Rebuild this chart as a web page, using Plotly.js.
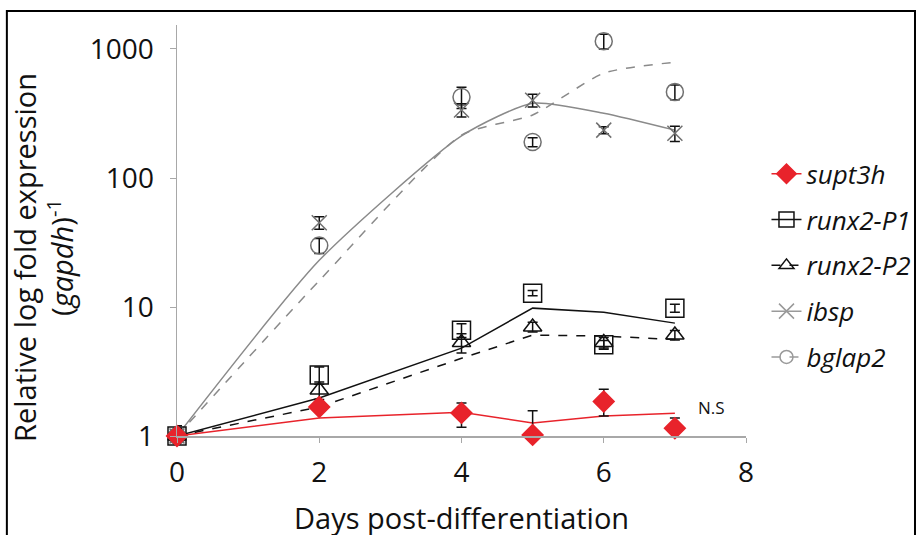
<!DOCTYPE html>
<html>
<head>
<meta charset="utf-8">
<script src="https://cdn.plot.ly/plotly-3.0.1.min.js"></script>
<style>html,body{margin:0;padding:0;background:#fff;overflow:hidden;width:917px;height:535px;} #chart{width:917px;height:535px;overflow:hidden;}</style>
</head>
<body>
<div id="chart"></div>
<script>
// ---- data ----
var days = [0, 2, 4, 5, 6, 7];
var seriesNames = ["supt3h", "runx2-P1", "runx2-P2", "ibsp", "bglap2"];

var supt3h      = [1, 1.68, 1.51, 1.02, 1.85, 1.15];
var supt3hUp    = [0, 0.05, 0.29, 0.55, 0.45, 0.23];
var supt3hDown  = [0, 0.05, 0.34, 0, 0.42, 0];
var supt3hLine  = [1, 1.38, 1.53, 1.26, 1.43, 1.5];

var runx2P1     = [1, 2.97, 6.6, 12.8, 5.1, 9.8];
var runx2P1Err  = [0.15, 0.45, 0.8, 0.6, 0.4, 0.7];
var runx2P1Line = [1, 1.97, 4.8, 9.8, 9.1, 7.5];

var runx2P2     = [1, 2.27, 5.3, 7.0, 5.3, 6.06];
var runx2P2Err  = [0, 0.35, 0.9, 0.6, 0.5, 0.5];
var runx2P2Line = [1, 1.68, 4.0, 6.06, 5.95, 5.6];

var ibsp        = [1, 45, 337, 400, 235, 222];
var ibspErr     = [0.2, 5, 40, 45, 15, 30];
var ibspLine    = [1, 23, 212, 380, 318, 235];

var bglap2      = [1, 30, 425, 190, 1150, 465];
var bglap2Err   = [0, 4, 80, 15, 150, 60];
var bglap2Line  = [1, 16, 215, 308, 650, 790];

var yTicks = [1, 10, 100, 1000];
var xTicks = [0, 2, 4, 6, 8];

// ---- styles ----
var RED = "#e8232b", BLACK = "#111111", GREY = "#8a8a8a", GREYM = "#707070";

function lineTrace(y, color, dash, shape) {
  return {x: days, y: y, mode: "lines", type: "scatter", showlegend: false, hoverinfo: "skip",
          line: {color: color, width: 1.5, dash: dash, shape: shape || "linear", smoothing: 0.6},
          cliponaxis: false};
}
function markTrace(y, up, down, symbol, color, size, ecolor) {
  return {x: days, y: y, mode: "markers", type: "scatter", showlegend: false, cliponaxis: false,
          marker: {symbol: symbol, size: size, color: color, line: {color: color, width: 1.5}},
          error_y: {type: "data", array: up, arrayminus: down, symmetric: false,
                    color: ecolor, thickness: 1.5, width: 5}};
}
function legendTrace(name, symbol, color, dash, size) {
  return {x: [null], y: [null], mode: "lines+markers", type: "scatter", name: name,
          legendgroup: name,
          line: {color: color, width: 1.5, dash: dash},
          marker: {symbol: symbol, size: size, color: color, line: {color: color, width: 1.5}}};
}

var data = [
  lineTrace(bglap2Line, GREY, "dash", "spline"),
  lineTrace(ibspLine, GREY, "solid", "spline"),
  lineTrace(runx2P2Line, BLACK, "dash"),
  lineTrace(runx2P1Line, BLACK, "solid"),
  lineTrace(supt3hLine, RED, "solid"),
  markTrace(bglap2, bglap2Err, bglap2Err, "circle-open", GREYM, 17, BLACK),
  markTrace(ibsp, ibspErr, ibspErr, "x-thin-open", GREYM, 15, BLACK),
  markTrace(runx2P1, runx2P1Err, runx2P1Err, "square-open", BLACK, 18, BLACK),
  markTrace(runx2P2, runx2P2Err, runx2P2Err, "triangle-up-open", BLACK, 16, BLACK),
  markTrace(supt3h, supt3hUp, supt3hDown, "diamond", RED, 16, BLACK),
  legendTrace(seriesNames[0], "diamond", RED, "solid", 15),
  legendTrace(seriesNames[1], "square-open", BLACK, "solid", 15),
  legendTrace(seriesNames[2], "triangle-up-open", BLACK, "dash", 13),
  legendTrace(seriesNames[3], "x-thin-open", "#9a9a9a", "solid", 15),
  legendTrace(seriesNames[4], "circle-open", "#9a9a9a", "dash", 13)
];

var FONT = "Open Sans, Noto Sans, sans-serif";
var layout = {
  width: 917, height: 535,
  margin: {l: 177, r: 171, t: 25, b: 99, autoexpand: false},
  paper_bgcolor: "#ffffff", plot_bgcolor: "#ffffff",
  font: {family: FONT, color: "#111", size: 28},
  showlegend: true,
  legend: {x: 1.036, xanchor: "left", y: 0.695, yanchor: "top",
           font: {family: FONT, size: 26, style: "italic", color: "#111"},
           traceorder: "grouped", tracegroupgap: 9, bgcolor: "rgba(0,0,0,0)"},
  xaxis: {range: [0, 8], tickvals: xTicks, ticktext: xTicks.map(String), showgrid: false, zeroline: false,
          showline: true, linecolor: "#a8a8a8", linewidth: 1.5, ticks: "outside", ticklen: 5,
          tickcolor: "#a8a8a8", tickfont: {size: 28, family: FONT}, ticklabelstandoff: 6, automargin: false},
  yaxis: {type: "log", range: [0, 3.186], tickvals: yTicks, ticktext: yTicks.map(String),
          showgrid: false, zeroline: false, showline: true, linecolor: "#a8a8a8", linewidth: 1.5,
          ticks: "outside", ticklen: 6, tickcolor: "#a8a8a8", tickfont: {size: 28, family: FONT},
          ticklabelstandoff: 10, automargin: false},
  annotations: [
    {text: "Relative log fold expression<br>(<i>gapdh</i>)<sup>-1</sup>", xref: "paper", yref: "paper",
     x: -0.236, y: 0.435, xanchor: "center", yanchor: "middle", textangle: -90, showarrow: false,
     font: {size: 29, family: FONT}},
    {text: "Days post-differentiation", xref: "paper", yref: "paper", x: 0.5, y: -0.145,
     xanchor: "center", yanchor: "top", showarrow: false, font: {size: 29, family: FONT}},
    {text: "N.S", xref: "x", yref: "y", x: 7.3, y: 0.22, xanchor: "left", yanchor: "middle",
     showarrow: false, font: {size: 17, family: FONT}}
  ],
  shapes: [
    {type: "rect", xref: "paper", yref: "paper", x0: -0.299, x1: 1.297, y0: -0.3, y1: 1.034,
     line: {color: "#000", width: 2}, fillcolor: "rgba(0,0,0,0)"}
  ]
};

Plotly.newPlot("chart", data, layout, {displayModeBar: false, staticPlot: true});
</script>
</body>
</html>
